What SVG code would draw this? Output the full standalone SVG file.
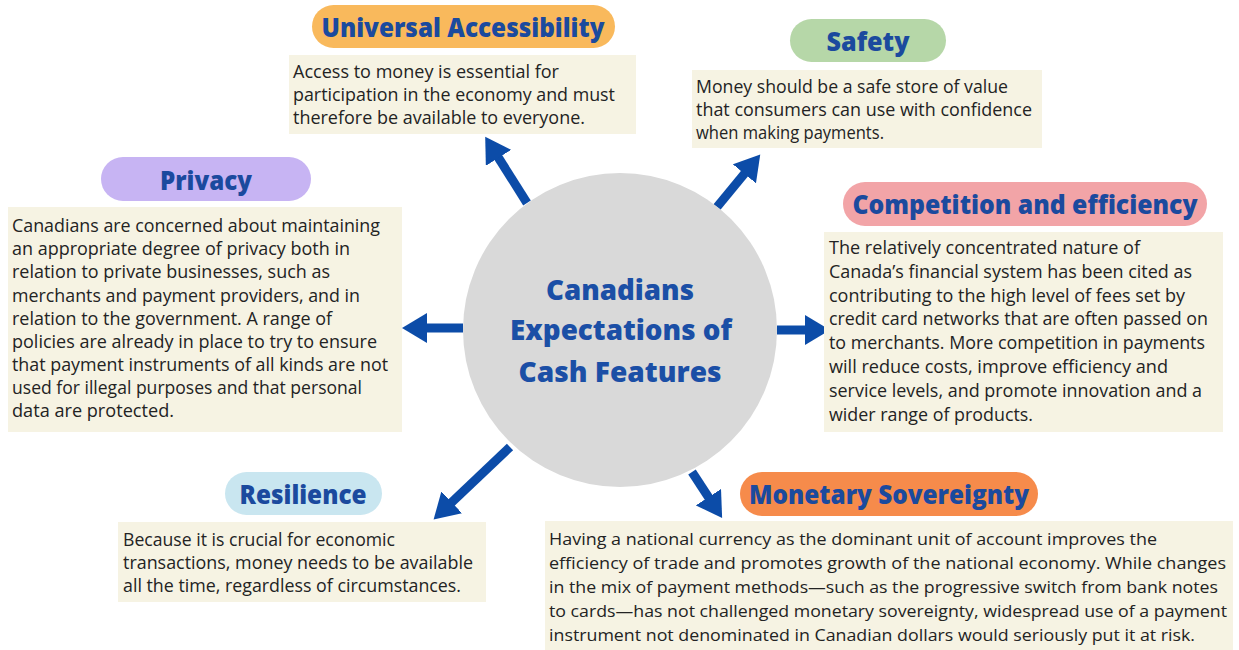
<svg xmlns="http://www.w3.org/2000/svg" width="1239" height="650" viewBox="0 0 1239 650">
  <style>
    .bg { fill: #ffffff; }
    .card { fill: #f6f3e3; }
    .title { font-family: "Open Sans", "Liberation Sans", sans-serif; font-weight: 800; font-size: 27px; fill: #1b4a9e; text-anchor: middle; }
    .body { font-family: "Open Sans", "Liberation Sans", sans-serif; font-size: 18px; fill: #232323; }
    .narrow { font-size: 17px; }
    .hub { fill: #d9d9d9; }
    .hubtext { font-family: "Open Sans", "Liberation Sans", sans-serif; font-weight: 800; font-size: 28px; fill: #1b4fa6; text-anchor: middle; }
    .arrow { stroke: #0c4ca8; stroke-width: 9; fill: none; marker-end: url(#head); }
  </style>
  <defs>
    <marker id="head" markerUnits="userSpaceOnUse" markerWidth="26" markerHeight="30" refX="1" refY="15" orient="auto" viewBox="0 0 26 30">
      <path d="M0,0 L25,15 L0,30 Z" fill="#0c4ca8"/>
    </marker>
  </defs>

  <rect class="bg" x="0" y="0" width="1239" height="650"/>

  <!-- connectors: hub to each feature -->
  <g id="connectors">
    <line class="arrow" x1="527" y1="203" x2="498" y2="157"/>
    <line class="arrow" x1="717" y1="207" x2="745" y2="173"/>
    <line class="arrow" x1="463" y1="328" x2="426" y2="328"/>
    <line class="arrow" x1="777" y1="330" x2="806" y2="330"/>
    <line class="arrow" x1="510" y1="447" x2="451" y2="503"/>
    <line class="arrow" x1="692" y1="472" x2="709" y2="498"/>
  </g>

  <!-- central hub -->
  <g id="hub">
    <circle class="hub" cx="620" cy="330" r="157"/>
    <text class="hubtext" x="620" y="300" textLength="148" lengthAdjust="spacingAndGlyphs">Canadians</text>
    <text class="hubtext" x="621" y="340" textLength="222" lengthAdjust="spacingAndGlyphs">Expectations of</text>
    <text class="hubtext" x="620" y="382" textLength="203" lengthAdjust="spacingAndGlyphs">Cash Features</text>
  </g>

  <g id="universal-accessibility">
    <rect x="312" y="5" width="303" height="43" rx="21.5" fill="#f9b95c"/>
    <text class="title" x="463" y="37" textLength="283" lengthAdjust="spacingAndGlyphs">Universal Accessibility</text>
    <rect class="card" x="289" y="55" width="347" height="79"/>
    <text class="body" x="293" y="78" textLength="266" lengthAdjust="spacingAndGlyphs">Access to money is essential for</text>
    <text class="body" x="293" y="101" textLength="322" lengthAdjust="spacingAndGlyphs">participation in the economy and must</text>
    <text class="body" x="293" y="124" textLength="292" lengthAdjust="spacingAndGlyphs">therefore be available to everyone.</text>
  </g>

  <g id="safety">
    <rect x="790" y="19" width="156" height="43" rx="21.5" fill="#b6d7a8"/>
    <text class="title" x="868" y="51" textLength="83" lengthAdjust="spacingAndGlyphs">Safety</text>
    <rect class="card" x="692" y="70" width="350" height="78"/>
    <text class="body" x="696" y="93" textLength="312" lengthAdjust="spacingAndGlyphs">Money should be a safe store of value</text>
    <text class="body" x="696" y="116" textLength="336" lengthAdjust="spacingAndGlyphs">that consumers can use with confidence</text>
    <text class="body" x="696" y="139" textLength="188" lengthAdjust="spacingAndGlyphs">when making payments.</text>
  </g>

  <g id="privacy">
    <rect x="101" y="157" width="210" height="44" rx="22" fill="#c7b4f3"/>
    <text class="title" x="206" y="190" textLength="92" lengthAdjust="spacingAndGlyphs">Privacy</text>
    <rect class="card" x="8" y="207" width="394" height="225"/>
    <text class="body" x="12" y="232" textLength="368" lengthAdjust="spacingAndGlyphs">Canadians are concerned about maintaining</text>
    <text class="body" x="12" y="255" textLength="338" lengthAdjust="spacingAndGlyphs">an appropriate degree of privacy both in</text>
    <text class="body" x="12" y="278" textLength="318" lengthAdjust="spacingAndGlyphs">relation to private businesses, such as</text>
    <text class="body" x="12" y="302" textLength="348" lengthAdjust="spacingAndGlyphs">merchants and payment providers, and in</text>
    <text class="body" x="12" y="325" textLength="320" lengthAdjust="spacingAndGlyphs">relation to the government. A range of</text>
    <text class="body" x="12" y="348" textLength="365" lengthAdjust="spacingAndGlyphs">policies are already in place to try to ensure</text>
    <text class="body" x="12" y="371" textLength="376" lengthAdjust="spacingAndGlyphs">that payment instruments of all kinds are not</text>
    <text class="body" x="12" y="394" textLength="350" lengthAdjust="spacingAndGlyphs">used for illegal purposes and that personal</text>
    <text class="body" x="12" y="417" textLength="162" lengthAdjust="spacingAndGlyphs">data are protected.</text>
  </g>

  <g id="competition-efficiency">
    <rect x="843" y="182" width="364" height="44" rx="22" fill="#f2a4a7"/>
    <text class="title" x="1025" y="214" textLength="345" lengthAdjust="spacingAndGlyphs">Competition and efficiency</text>
    <rect class="card" x="824" y="232" width="399" height="200"/>
    <text class="body" x="829" y="254" textLength="311" lengthAdjust="spacingAndGlyphs">The relatively concentrated nature of</text>
    <text class="body" x="829" y="278" textLength="363" lengthAdjust="spacingAndGlyphs">Canada’s financial system has been cited as</text>
    <text class="body" x="829" y="302" textLength="356" lengthAdjust="spacingAndGlyphs">contributing to the high level of fees set by</text>
    <text class="body" x="829" y="325" textLength="379" lengthAdjust="spacingAndGlyphs">credit card networks that are often passed on</text>
    <text class="body" x="829" y="349" textLength="376" lengthAdjust="spacingAndGlyphs">to merchants. More competition in payments</text>
    <text class="body" x="829" y="373" textLength="339" lengthAdjust="spacingAndGlyphs">will reduce costs, improve efficiency and</text>
    <text class="body" x="829" y="397" textLength="373" lengthAdjust="spacingAndGlyphs">service levels, and promote innovation and a</text>
    <text class="body" x="829" y="421" textLength="204" lengthAdjust="spacingAndGlyphs">wider range of products.</text>
  </g>

  <g id="resilience">
    <rect x="225" y="472" width="157" height="43" rx="21.5" fill="#c9e6f0"/>
    <text class="title" x="303" y="504" textLength="127" lengthAdjust="spacingAndGlyphs">Resilience</text>
    <rect class="card" x="118" y="522" width="368" height="80"/>
    <text class="body" x="123" y="546" textLength="272" lengthAdjust="spacingAndGlyphs">Because it is crucial for economic</text>
    <text class="body" x="123" y="569" textLength="350" lengthAdjust="spacingAndGlyphs">transactions, money needs to be available</text>
    <text class="body" x="123" y="592" textLength="338" lengthAdjust="spacingAndGlyphs">all the time, regardless of circumstances.</text>
  </g>

  <g id="monetary-sovereignty">
    <rect x="740" y="472" width="298" height="44" rx="22" fill="#f68b4b"/>
    <text class="title" x="889" y="504" textLength="280" lengthAdjust="spacingAndGlyphs">Monetary Sovereignty</text>
    <rect class="card" x="545" y="521" width="688" height="129"/>
    <text class="body narrow" x="549" y="545" textLength="608" lengthAdjust="spacingAndGlyphs">Having a national currency as the dominant unit of account improves the</text>
    <text class="body narrow" x="549" y="569" textLength="677" lengthAdjust="spacingAndGlyphs">efficiency of trade and promotes growth of the national economy. While changes</text>
    <text class="body narrow" x="549" y="593" textLength="669" lengthAdjust="spacingAndGlyphs">in the mix of payment methods—such as the progressive switch from bank notes</text>
    <text class="body narrow" x="549" y="617" textLength="678" lengthAdjust="spacingAndGlyphs">to cards—has not challenged monetary sovereignty, widespread use of a payment</text>
    <text class="body narrow" x="549" y="641" textLength="646" lengthAdjust="spacingAndGlyphs">instrument not denominated in Canadian dollars would seriously put it at risk.</text>
  </g>
</svg>
